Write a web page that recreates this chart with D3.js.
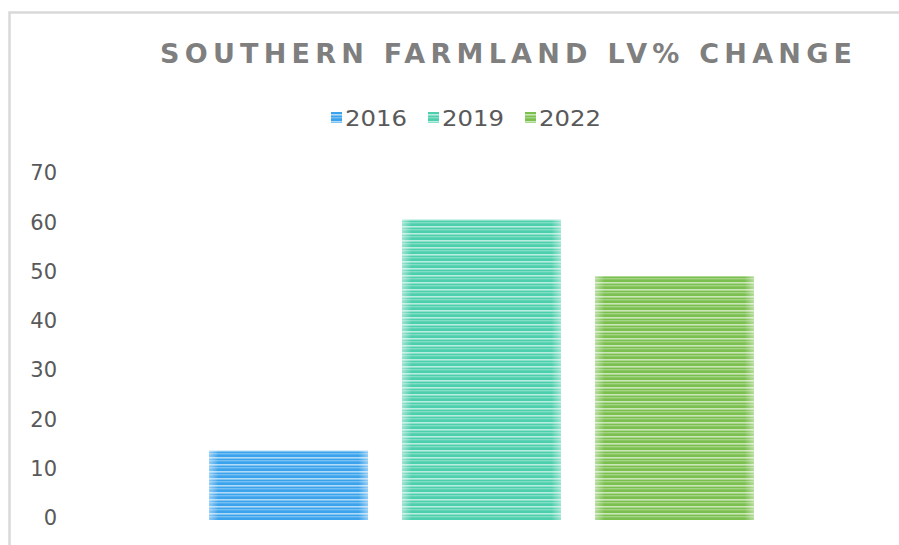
<html>
	<head>
		<script type="text/javascript" src="https://cdn.jsdelivr.net/npm/d3@7/dist/d3.min.js"></script>
		<style>
			body { margin: 0; background: #fff; }
			svg { display: block; }
		</style>
	</head>
	<body>
		<script type="text/javascript">

			// data
			var series = ['2016', '2019', '2022'];
			var values = [14.1, 61, 49.5];
			var colors = ['#3aa3ec', '#4ccfac', '#7bc04f'];
			var yTicks = [0, 10, 20, 30, 40, 50, 60, 70];
			var title = 'SOUTHERN FARMLAND LV% CHANGE';

			var width = 899,
				height = 545;

			var svg = d3.select('body').append('svg')
				.attr('width', width)
				.attr('height', height);

			var defs = svg.append('defs');

			// striped fills
			series.forEach(function(s, i){
				var light = d3.interpolateRgb(colors[i], '#ffffff')(0.6);
				var mid = d3.interpolateRgb(colors[i], '#ffffff')(0.3);
				var p = defs.append('pattern')
					.attr('id', 'stripe' + i)
					.attr('patternUnits', 'userSpaceOnUse')
					.attr('width', 10)
					.attr('height', 7);
				p.append('rect').attr('width', 10).attr('height', 7).attr('fill', colors[i]);
				p.append('rect').attr('y', 2).attr('width', 10).attr('height', 1.6).attr('fill', light);
				p.append('rect').attr('y', 5).attr('width', 10).attr('height', 1.4).attr('fill', mid);
			});

			// soft edge glow
			var g = defs.append('linearGradient').attr('id', 'edge');
			g.append('stop').attr('offset', '0%').attr('stop-color', '#fff').attr('stop-opacity', 0.45);
			g.append('stop').attr('offset', '6%').attr('stop-color', '#fff').attr('stop-opacity', 0);
			g.append('stop').attr('offset', '94%').attr('stop-color', '#fff').attr('stop-opacity', 0);
			g.append('stop').attr('offset', '100%').attr('stop-color', '#fff').attr('stop-opacity', 0.45);

			// chart border
			svg.append('rect')
				.attr('x', 9.5)
				.attr('y', 12.5)
				.attr('width', width + 20)
				.attr('height', height + 20)
				.attr('fill', 'none')
				.attr('stroke', '#d9d9d9')
				.attr('stroke-width', 2.5);

			var y = d3.scaleLinear()
				.domain([0, 70])
				.range([520, 175]);

			var x = d3.scaleBand()
				.domain(series)
				.range([209, 754])
				.paddingInner(0.176)
				.paddingOuter(0);

			// y axis labels
			var yAxis = d3.axisLeft(y)
				.tickValues(yTicks)
				.tickSize(0)
				.tickPadding(0);

			svg.append('g')
				.attr('transform', 'translate(57,-2)')
				.call(yAxis)
				.call(function(a){ a.select('.domain').remove(); })
				.selectAll('text')
				.attr('fill', '#595959')
				.style('font-family', '"DejaVu Sans", sans-serif')
				.style('font-size', '21px');

			// bars
			var bars = svg.append('g');
			bars.selectAll('rect.bar')
				.data(values)
				.enter().append('rect')
				.attr('class', 'bar')
				.attr('x', function(d, i){ return x(series[i]); })
				.attr('y', function(d){ return y(d); })
				.attr('width', x.bandwidth())
				.attr('height', function(d){ return y(0) - y(d); })
				.attr('fill', function(d, i){ return 'url(#stripe' + i + ')'; });

			bars.selectAll('rect.glow')
				.data(values)
				.enter().append('rect')
				.attr('class', 'glow')
				.attr('x', function(d, i){ return x(series[i]); })
				.attr('y', function(d){ return y(d); })
				.attr('width', x.bandwidth())
				.attr('height', function(d){ return y(0) - y(d); })
				.attr('fill', 'url(#edge)');

			// title
			svg.append('text')
				.attr('x', 160)
				.attr('y', 63)
				.attr('fill', '#7f7f7f')
				.attr('textLength', 692)
				.attr('lengthAdjust', 'spacing')
				.style('font-family', '"DejaVu Sans", sans-serif')
				.style('font-weight', 'bold')
				.style('font-size', '27px')
				.text(title);

			// legend
			var legendX = [331, 428, 525];
			var legend = svg.append('g').selectAll('g')
				.data(series)
				.enter().append('g')
				.attr('transform', function(d, i){ return 'translate(' + legendX[i] + ',112)'; });

			legend.append('rect')
				.attr('width', 11)
				.attr('height', 11)
				.attr('fill', function(d, i){ return 'url(#stripe' + i + ')'; });

			legend.append('text')
				.attr('x', 14)
				.attr('y', 14)
				.attr('fill', '#595959')
				.attr('textLength', 62)
				.attr('lengthAdjust', 'spacingAndGlyphs')
				.style('font-family', '"DejaVu Sans", sans-serif')
				.style('font-size', '22px')
				.text(function(d){ return d; });

		</script>
	</body>
</html>
